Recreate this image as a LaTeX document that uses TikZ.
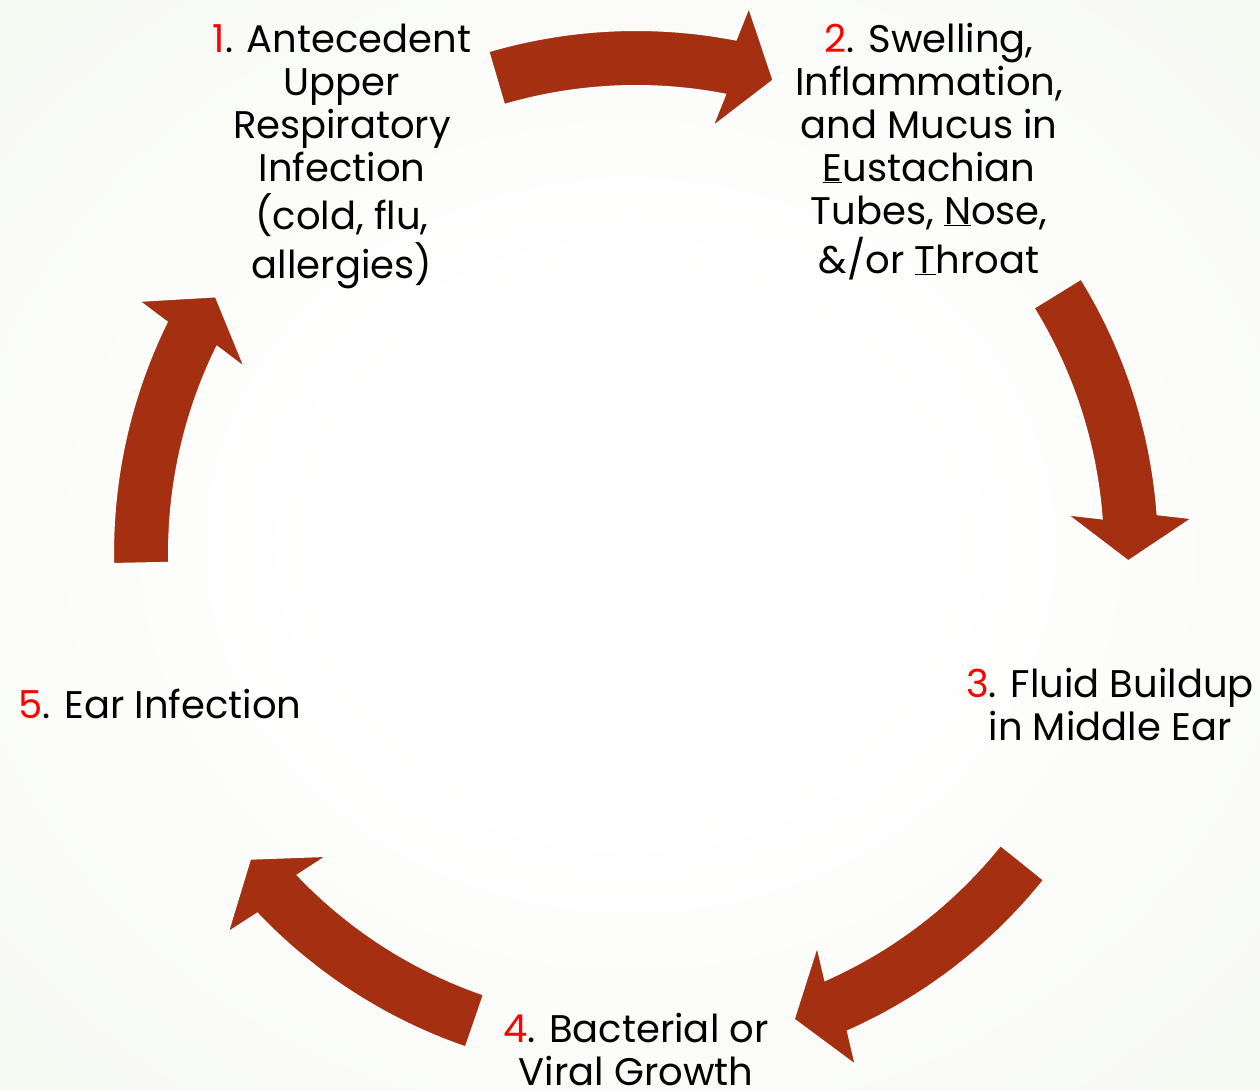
\documentclass[tikz,border=0pt]{standalone}
\usepackage{fontspec}
\setmainfont{Poppins}
\definecolor{arrowred}{RGB}{165,47,17}
\definecolor{numred}{RGB}{255,0,0}
\definecolor{bgedge}{RGB}{232,238,218}
\definecolor{bgmid}{RGB}{244,247,238}
\pgfdeclareradialshading{bgrad}{\pgfpoint{0bp}{0bp}}{color(0bp)=(white); color(12bp)=(white); color(45bp)=(bgmid); color(71bp)=(bgedge)}
\begin{document}
\begin{tikzpicture}[x=1pt,y=1pt,
  cyclearrow/.style={fill=arrowred, draw=white, line width=2pt, line join=miter},
  steptext/.style={inner sep=0pt, font=\fontsize{38.5}{43}\selectfont, text=black}]
\useasboundingbox (0,0) rectangle (1260,-1090);
\shade[shading=bgrad] (0,0) rectangle (1260,-1090);
\foreach \r in {0,-74.75,-145.1,-215.4,-285.2} {
  \begin{scope}[shift={(636,-553)}, rotate=\r]
    \path[cyclearrow] (106.4:523) arc[start angle=106.4, end angle=79, radius=523]
      -- (112.87,546.16) -- (137.48,472.75) -- (76.03,425.66)
      -- (79:467) arc[start angle=79, end angle=106.4, radius=467] -- cycle;
  \end{scope}
}
\node[steptext, anchor=base] (n1) at (342,-52) {\begin{tabular}[t]{@{}c@{}}\textcolor{numred}{1}. Antecedent\\ Upper\\ Respiratory\\ Infection\\ (cold, flu,\\ allergies)\end{tabular}};
\node[steptext, anchor=base] (n2) at (929,-52) {\begin{tabular}[t]{@{}c@{}}\textcolor{numred}{2}. Swelling,\\ Inflammation,\\ and Mucus in\\ \underline{E}ustachian\\ Tubes, \underline{N}ose,\\ \&/or \underline{T}hroat\end{tabular}};
\node[steptext, anchor=base] (n3) at (1110,-697) {\begin{tabular}[t]{@{}c@{}}\textcolor{numred}{3}. Fluid Buildup\\ in Middle Ear\end{tabular}};
\node[steptext, anchor=base] (n4) at (636,-1042) {\begin{tabular}[t]{@{}c@{}}\textcolor{numred}{4}. Bacterial or\\ Viral Growth\end{tabular}};
\node[steptext, anchor=base] (n5) at (160,-718) {\textcolor{numred}{5}. Ear Infection};
\end{tikzpicture}
\end{document}
